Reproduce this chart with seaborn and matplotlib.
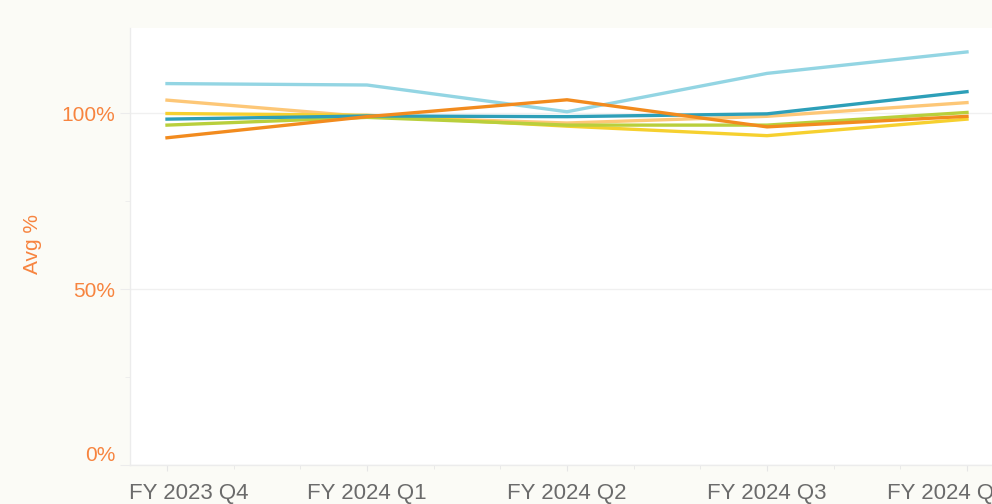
import pandas as pd
import numpy as np

import matplotlib
matplotlib.use("Agg")
import matplotlib.pyplot as plt
import matplotlib.transforms as mtransforms
import seaborn as sns
from matplotlib.ticker import AutoMinorLocator, FuncFormatter

# ==========================================
# DATA
# ==========================================

quarters = ["FY 2023 Q4", "FY 2024 Q1", "FY 2024 Q2", "FY 2024 Q3", "FY 2024 Q4"]

light_blue = [108.4, 108.0, 100.4, 111.3, 117.4]
light_orange = [103.7, 99.0, 97.2, 99.1, 103.0]
yellow = [99.9, 99.4, 96.3, 93.6, 98.3]
green = [96.6, 98.8, 96.6, 96.6, 100.2]
teal = [98.3, 99.2, 99.0, 99.8, 106.1]
orange = [93.0, 99.0, 103.8, 96.1, 99.1]

series_names = ["Light blue", "Light orange", "Yellow", "Green", "Teal", "Orange"]
series_values = [light_blue, light_orange, yellow, green, teal, orange]
series_colors = ["#93d5e3", "#fdc777", "#f6d02f", "#b9cf3c", "#2d9fb8", "#f28b1e"]

df = pd.DataFrame(
    [(name, q, v)
     for name, vals in zip(series_names, series_values)
     for q, v in zip(quarters, vals)],
    columns=["series", "quarter", "avg"]
)

# ==========================================
# PLOT
# ==========================================

plt.rcParams['font.family'] = ['Liberation Sans', 'DejaVu Sans']

bg = "#fbfbf6"
orange_txt = "#f7843f"
grey_txt = "#6b6b6b"
axis_col = "#ececec"

fig = plt.figure(figsize=(9.92, 5.04), dpi=100, facecolor=bg)
ax = fig.add_axes([130 / 992, 39 / 504, 862 / 992, 437 / 504])
ax.set_facecolor("white")

sns.lineplot(
    data=df,
    x="quarter",
    y="avg",
    hue="series",
    palette=dict(zip(series_names, series_colors)),
    linewidth=2.4,
    sort=False,
    legend=False,
    ax=ax
)

ax.set_xlim(-0.185, 4.125)
ax.set_ylim(0, 124.2)

ax.set_yticks([0, 50, 100])
ax.yaxis.set_major_formatter(FuncFormatter(lambda v, p: f"{v:.0f}%"))
ax.yaxis.set_minor_locator(AutoMinorLocator(2))
ax.xaxis.set_minor_locator(AutoMinorLocator(3))

ax.grid(axis="y", which="major", color="#f0f0f0", linewidth=1)
ax.set_axisbelow(True)

for side in ["top", "right"]:
    ax.spines[side].set_visible(False)
for side in ["left", "bottom"]:
    ax.spines[side].set_color(axis_col)
    ax.spines[side].set_linewidth(1)

ax.tick_params(axis="y", which="major", length=7, color=axis_col,
               labelsize=15, labelcolor=orange_txt, pad=3.5)
ax.tick_params(axis="y", which="minor", length=3.5, color=axis_col)
ax.tick_params(axis="x", which="major", length=4.5, color="#e6e6e6",
               labelsize=16, labelcolor=grey_txt, pad=8.5)
ax.tick_params(axis="x", which="minor", length=3, color="#e6e6e6")

for lbl in ax.get_yticklabels():
    if lbl.get_text() == "0%":
        lbl.set_va("bottom")

# first and last quarter labels are nudged to stay near the plot edges
xlabels = ax.get_xticklabels()
shift_first = mtransforms.ScaledTranslation(22 / 100, 0, fig.dpi_scale_trans)
shift_last = mtransforms.ScaledTranslation(-20 / 100, 0, fig.dpi_scale_trans)
xlabels[0].set_transform(xlabels[0].get_transform() + shift_first)
xlabels[-1].set_transform(xlabels[-1].get_transform() + shift_last)

ax.set_xlabel("")
ax.set_ylabel("Avg %", fontsize=15, color=orange_txt)
ax.yaxis.set_label_coords(-88 / 862, 0.505)

fig.savefig("out.png", dpi=100, facecolor=bg)
